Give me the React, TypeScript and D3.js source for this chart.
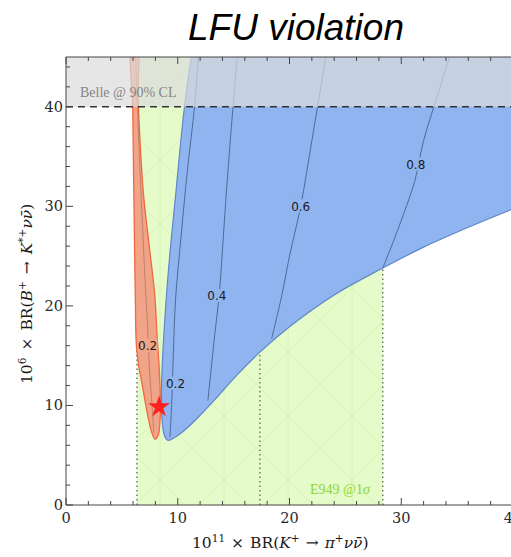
import React from "react";
import * as d3 from "d3";

const W = 511;
const H = 557;

// Axis extents and tick values
const xDomain: [number, number] = [0, 40];
const yDomain: [number, number] = [0, 45];
const xMajorTicks = [0, 10, 20, 30, 40];
const yMajorTicks = [0, 10, 20, 30, 40];
const minorStep = 2;

// E949 measurement band (1 sigma) and its central value
const e949Band: [number, number] = [6.35, 28.35];
const e949Central = 17.35;
// Belle 90% CL upper limit on B+ -> K*+ nu nubar
const belleLimit = 40;

// Allowed region, scenario A (orange), traced around its outline
const orangeOutline: [number, number][] = [
  [5.9, 46], [5.97, 40], [6.05, 33], [6.12, 27], [6.2, 21], [6.3, 16],
  [6.5, 14], [6.8, 12.2], [7.35, 8.8], [7.7, 7.2], [7.97, 6.6],
  [8.25, 7.0], [8.42, 8.6], [8.45, 10.5], [8.35, 13.5], [8.15, 17],
  [7.95, 21], [7.45, 26], [6.95, 31], [6.65, 36], [6.45, 41], [6.35, 46],
];

// Allowed region, scenario B (blue): left edge down to the tip, then lower edge
const blueEdge: [number, number][] = [
  [11.35, 46], [10.6, 40], [9.8, 31], [9.2, 24], [8.75, 17], [8.55, 12],
  [8.6, 8.5], [8.8, 7.0], [9.1, 6.5], [9.6, 6.7], [10.5, 7.4], [12, 9.0],
  [13.5, 10.8], [15, 12.7], [17.35, 15.35], [20, 17.9], [24, 21.1],
  [28.35, 23.8], [32, 25.9], [36, 27.9], [41, 30.2],
];

// Contour lines of the coupling ratio
const orangeContour02: [number, number][] = [
  [7.85, 7.3], [7.7, 10], [7.45, 14], [7.3, 18], [7.1, 22], [6.85, 28],
  [6.6, 34], [6.4, 40], [6.2, 46],
];
const blueContour02: [number, number][] = [
  [9.3, 6.8], [9.45, 10], [9.6, 15], [9.8, 20.6], [10.3, 27], [10.9, 34],
  [11.5, 40], [11.9, 46],
];
const blueContour04: [number, number][] = [
  [12.7, 10.5], [13.3, 17], [13.7, 21], [14.0, 25.6], [14.3, 30.6],
  [14.8, 38], [15.4, 46],
];
const blueContour06: [number, number][] = [
  [18.4, 16.7], [19.3, 21], [20.0, 25], [21.0, 30], [22.0, 36.6],
  [23.4, 46],
];
const blueContour08: [number, number][] = [
  [28.35, 23.8], [29.3, 26.5], [30.2, 29.2], [31.2, 32.5], [32.0, 36.6],
  [33.2, 41], [34.6, 46],
];

// Contour labels: position and text
const orangeLabels: { x: number; y: number; t: string }[] = [
  { x: 7.3, y: 16.0, t: "0.2" },
];
const blueLabels: { x: number; y: number; t: string }[] = [
  { x: 9.8, y: 12.2, t: "0.2" },
  { x: 13.5, y: 21.0, t: "0.4" },
  { x: 21.0, y: 30.0, t: "0.6" },
  { x: 31.3, y: 34.2, t: "0.8" },
];

// Benchmark (Standard Model) point
const smPoint: [number, number] = [8.33, 9.85];

const left = 66;
const top = 57;
const plotRight = 513;
const plotBottom = 505;

const BLUE = "#8fb4ef";
const ORANGE = "#f1a488";
const GREEN = "#e5fbca";

export default function App() {
  const x = d3.scaleLinear().domain(xDomain).range([left, plotRight]);
  const y = d3.scaleLinear().domain(yDomain).range([plotBottom, top]);

  const smooth = d3
    .line<[number, number]>()
    .x((d) => x(d[0]))
    .y((d) => y(d[1]))
    .curve(d3.curveCatmullRom.alpha(0.5));
  const closedSmooth = d3
    .line<[number, number]>()
    .x((d) => x(d[0]))
    .y((d) => y(d[1]))
    .curve(d3.curveCatmullRomClosed.alpha(0.5));

  const blueEdgePath = smooth(blueEdge) as string;
  const blueFillPath =
    blueEdgePath + `L${x(41)},${y(46)}L${x(11.35)},${y(46)}Z`;
  const orangePath = closedSmooth(orangeOutline) as string;

  const xMinor = d3.range(xDomain[0], xDomain[1] + 0.001, minorStep);
  const yMinor = d3.range(yDomain[0], yDomain[1] + 0.001, minorStep);

  const star = d3.symbol().type(d3.symbolStar).size(150)() as string;

  const serif = "'DejaVu Serif', 'Liberation Serif', serif";
  const labelSerif = "'Liberation Serif', serif";
  const sans = "'DejaVu Sans', 'Liberation Sans', sans-serif";
  const titleSans = "'Liberation Sans', Arial, sans-serif";

  const label = (
    l: { x: number; y: number; t: string },
    bg: string,
    key: string
  ) => (
    <g key={key}>
      <rect
        x={x(l.x) - 10}
        y={y(l.y) - 7}
        width={20}
        height={13}
        fill={bg}
      />
      <text
        x={x(l.x)}
        y={y(l.y) + 4.5}
        textAnchor="middle"
        fontFamily={sans}
        fontSize={12}
        fill="#1a1a1a"
      >
        {l.t}
      </text>
    </g>
  );

  return (
    <svg
      width={W}
      height={H}
      style={{ position: "absolute", left: 0, top: 0, background: "#fff" }}
    >
      <defs>
        <clipPath id="plot">
          <rect x={left} y={top} width={plotRight - left} height={plotBottom - top} />
        </clipPath>
        <pattern id="mesh" width={64} height={64} patternUnits="userSpaceOnUse">
          <path
            d="M0,0L64,64M64,0L0,64M32,0L32,64"
            stroke="#d3f3ad"
            strokeWidth={0.8}
            fill="none"
          />
        </pattern>
      </defs>

      {/* Title */}
      <text
        x={296}
        y={40}
        textAnchor="middle"
        fontFamily={titleSans}
        fontStyle="italic"
        fontSize={37}
        fill="#000"
      >
        LFU violation
      </text>

      <g clipPath="url(#plot)">
        {/* E949 band */}
        <rect
          x={x(e949Band[0])}
          y={y(yDomain[1])}
          width={x(e949Band[1]) - x(e949Band[0])}
          height={y(0) - y(yDomain[1])}
          fill={GREEN}
        />
        <rect
          x={x(e949Band[0])}
          y={y(yDomain[1])}
          width={x(e949Band[1]) - x(e949Band[0])}
          height={y(0) - y(yDomain[1])}
          fill="url(#mesh)"
        />
        {[e949Band[0], e949Central, e949Band[1]].map((v, i) => (
          <line
            key={i}
            x1={x(v)}
            x2={x(v)}
            y1={y(0)}
            y2={y(yDomain[1])}
            stroke="#555"
            strokeWidth={1.2}
            strokeDasharray="1.5,3"
          />
        ))}

        {/* Orange region */}
        <path d={orangePath} fill={ORANGE} stroke="#ee6a3f" strokeWidth={1.3} />
        <path d={smooth(orangeContour02) as string} fill="none" stroke="#b07862" strokeWidth={0.8} />
        {orangeLabels.map((l, i) => label(l, ORANGE, "o" + i))}

        {/* Blue region */}
        <path d={blueFillPath} fill={BLUE} />
        <path d={blueEdgePath} fill="none" stroke="#5f86c8" strokeWidth={1.2} />
        {[blueContour02, blueContour04, blueContour06, blueContour08].map((c, i) => (
          <path key={i} d={smooth(c) as string} fill="none" stroke="#4d6b98" strokeWidth={1} />
        ))}
        {blueLabels.map((l, i) => label(l, BLUE, "b" + i))}

        {/* Belle exclusion */}
        <rect
          x={left}
          y={y(yDomain[1])}
          width={plotRight - left}
          height={y(belleLimit) - y(yDomain[1])}
          fill="#dcdcdc"
          opacity={0.7}
        />
        <line
          x1={left}
          x2={plotRight}
          y1={y(belleLimit)}
          y2={y(belleLimit)}
          stroke="#333"
          strokeWidth={1.5}
          strokeDasharray="7,5"
        />
        <text x={80} y={97} fontFamily={labelSerif} fontSize={14} fill="#858585">
          Belle @ 90% CL
        </text>

        {/* SM point */}
        <path
          d={star}
          transform={`translate(${x(smPoint[0])},${y(smPoint[1])})`}
          fill="#ff2020"
        />

        <text x={310} y={494} fontFamily={labelSerif} fontSize={14} fill="#8fd630">
          E949 @1<tspan fontStyle="italic">σ</tspan>
        </text>
      </g>

      {/* Frame */}
      <g stroke="#444" strokeWidth={1} fill="none">
        <line x1={left} x2={plotRight} y1={plotBottom} y2={plotBottom} />
        <line x1={left} x2={plotRight} y1={top} y2={top} />
        <line x1={left} x2={left} y1={top} y2={plotBottom} />
        {xMinor.map((v) => {
          const len = xMajorTicks.includes(v) ? 7 : 4;
          return (
            <g key={"xt" + v}>
              <line x1={x(v)} x2={x(v)} y1={plotBottom} y2={plotBottom - len} />
              <line x1={x(v)} x2={x(v)} y1={top} y2={top + len} />
            </g>
          );
        })}
        {yMinor.map((v) => {
          const len = yMajorTicks.includes(v) ? 7 : 4;
          return <line key={"yt" + v} x1={left} x2={left + len} y1={y(v)} y2={y(v)} />;
        })}
      </g>

      {/* Tick labels */}
      {xMajorTicks.map((v) => (
        <text
          key={"xl" + v}
          x={x(v)}
          y={523}
          textAnchor="middle"
          fontFamily={serif}
          fontSize={14.5}
          fill="#2a2a2a"
        >
          {v}
        </text>
      ))}
      {yMajorTicks.map((v) => (
        <text
          key={"yl" + v}
          x={63}
          y={y(v) + 5}
          textAnchor="end"
          fontFamily={serif}
          fontSize={14.5}
          fill="#2a2a2a"
        >
          {v}
        </text>
      ))}

      {/* Axis titles */}
      <text x={192} y={548} fontFamily={serif} fontSize={15.5} fill="#1a1a1a">
        10<tspan dy={-6} fontSize={10.5}>11</tspan>
        <tspan dy={6} dx={6}>×</tspan>
        <tspan dx={6}>BR(</tspan>
        <tspan fontStyle="italic">K</tspan>
        <tspan dy={-6} fontSize={10.5}>+</tspan>
        <tspan dy={6} dx={6}>→</tspan>
        <tspan dx={6} fontStyle="italic">π</tspan>
        <tspan dy={-6} fontSize={10.5}>+</tspan>
        <tspan dy={6} fontStyle="italic">νν̄</tspan>
        <tspan>)</tspan>
      </text>
      <text
        transform={`translate(32,384) rotate(-90)`}
        fontFamily={serif}
        fontSize={15.5}
        fill="#1a1a1a"
      >
        10<tspan dy={-6} fontSize={10.5}>6</tspan>
        <tspan dy={6} dx={7}>×</tspan>
        <tspan dx={7}>BR(</tspan>
        <tspan fontStyle="italic">B</tspan>
        <tspan dy={-6} fontSize={10.5}>+</tspan>
        <tspan dy={6} dx={7}>→</tspan>
        <tspan dx={7} fontStyle="italic">K</tspan>
        <tspan dy={-6} fontSize={10.5}>*+</tspan>
        <tspan dy={6} fontStyle="italic">νν̄</tspan>
        <tspan>)</tspan>
      </text>
    </svg>
  );
}
